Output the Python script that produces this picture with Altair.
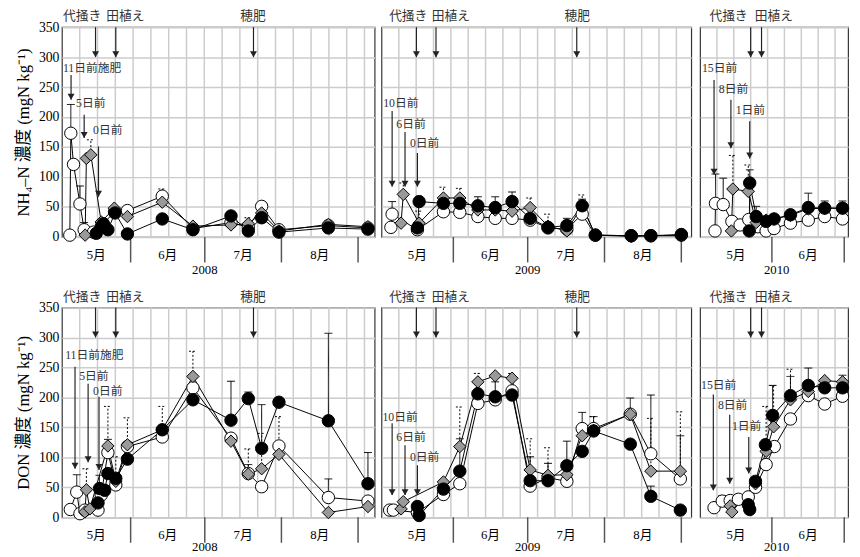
import altair as alt
import numpy as np
import pandas as pd

# ---------------- data (day index: 1 = 1 May) ----------------
SERIES = ["open", "grey", "filled"]
MONTHS = ["5月", "6月", "7月", "8月"]
MONTH_START = [1, 32, 62, 93, 124, 154]
Y_TICKS = [0, 50, 100, 150, 200, 250, 300, 350]

# (day, value, upper error)
NH4_2008_OPEN = [(7.4, 3, 0), (7.8, 173, 48), (8.9, 121, 0), (11.5, 55, 30), (13.2, 12, 12), (17.0, 8, 0),
                 (20.5, 20, 0), (25.5, 42, 0), (30.7, 44, 0), (44.8, 68, 0), (57.2, 14, 0), (72.6, 24, 0),
                 (79.6, 16, 0), (85.0, 51, 0), (92.0, 12, 0), (112.0, 19, 0), (128.0, 15, 0)]
NH4_2008_GREY = [(13.6, 3, 0), (14.1, 131, 0), (15.9, 137, 25), (20.1, 25, 0), (25.4, 48, 0), (30.7, 34, 0),
                 (44.8, 58, 22), (57.2, 18, 0), (72.6, 20, 0), (79.6, 22, 10), (85.0, 40, 0), (92.0, 10, 0),
                 (112.0, 21, 0), (128.0, 17, 0)]
NH4_2008_FILLED = [(18.1, 6, 0), (20.1, 17, 0), (21.0, 22, 0), (22.8, 12, 0), (25.7, 40, 0), (30.7, 5, 0),
                   (44.8, 30, 0), (57.2, 12, 0), (72.6, 35, 0), (79.6, 10, 0), (85.0, 32, 0), (92.0, 8, 0),
                   (112.0, 15, 0), (128.0, 13, 0)]

NH4_2009_OPEN = [(6.8, 16, 0), (7.3, 38, 21), (17.5, 12, 0), (28.0, 42, 0), (34.6, 41, 0), (41.9, 34, 0),
                 (48.9, 31, 0), (55.7, 31, 0), (63.0, 28, 0), (70.2, 15, 0), (77.8, 13, 0), (84.0, 38, 0),
                 (89.3, 3, 0), (103.8, 2, 0), (111.7, 2, 0), (124.0, 3, 0)]
NH4_2009_GREY = [(10.9, 23, 0), (11.8, 71, 19), (18.2, 23, 20), (28.0, 65, 18), (34.6, 65, 16), (41.9, 45, 0),
                 (48.9, 45, 0), (55.7, 43, 0), (63.0, 49, 16), (70.2, 18, 20), (77.8, 10, 0), (84.0, 52, 18),
                 (89.3, 3, 0), (103.8, 1, 0), (111.7, 2, 0), (124.0, 2, 0)]
NH4_2009_FILLED = [(17.5, 15, 0), (18.2, 59, 0), (28.0, 56, 0), (34.6, 56, 5), (41.9, 52, 15), (48.9, 49, 18),
                   (55.7, 59, 16), (63.0, 31, 0), (70.2, 16, 0), (77.8, 19, 12), (84.0, 52, 11), (89.3, 3, 0),
                   (103.8, 2, 0), (111.7, 2, 0), (124.0, 4, 0)]

NH4_2010_OPEN = [(8.4, 10, 0), (8.6, 56, 49), (11.8, 54, 44), (15.4, 26, 0), (18.8, 20, 0), (22.4, 29, 0),
                 (26.2, 17, 0), (29.6, 10, 0), (32.9, 14, 0), (39.7, 23, 0), (47.1, 28, 0), (53.9, 34, 0),
                 (61.3, 30, 0)]
NH4_2010_GREY = [(15.2, 10, 0), (15.8, 80, 56), (22.2, 76, 44), (25.5, 24, 0), (29.6, 28, 0), (32.9, 30, 0),
                 (39.7, 36, 0), (47.1, 47, 0), (53.9, 48, 0), (61.3, 48, 0)]
NH4_2010_FILLED = [(22.6, 10, 0), (22.8, 90, 22), (25.5, 34, 17), (29.6, 26, 0), (32.9, 30, 7), (39.7, 37, 6),
                   (47.1, 49, 24), (53.9, 48, 12), (61.3, 48, 12)]

DON_2008_OPEN = [(7.6, 13, 0), (10.2, 42, 29), (11.5, 6, 0), (13.5, 12, 0), (18.8, 12, 0), (20.1, 37, 0),
                 (22.8, 108, 22), (26.0, 54, 0), (30.7, 118, 0), (44.8, 134, 0), (57.2, 216, 0), (72.6, 132, 0),
                 (79.6, 73, 15), (85.0, 51, 0), (92.0, 119, 0), (112.0, 33, 31), (128.0, 27, 0)]
DON_2008_GREY = [(13.5, 9, 0), (14.1, 46, 35), (15.5, 14, 0), (22.8, 119, 66), (26.0, 60, 41), (30.7, 121, 45),
                 (44.8, 146, 39), (57.2, 235, 42), (72.6, 127, 0), (79.6, 72, 42), (85.0, 81, 59), (92.0, 105, 63),
                 (112.0, 8, 0), (128.0, 18, 0)]
DON_2008_FILLED = [(18.8, 24, 0), (19.4, 48, 22), (21.5, 45, 0), (22.8, 73, 0), (26.0, 65, 0), (30.7, 97, 0),
                   (44.8, 146, 0), (57.2, 196, 0), (72.6, 162, 65), (79.6, 198, 11), (85.0, 115, 73),
                   (92.0, 192, 0), (112.0, 161, 146), (128.0, 56, 52)]

DON_2009_OPEN = [(6.3, 12, 0), (7.8, 12, 0), (17.5, 8, 0), (28.0, 38, 0), (34.6, 56, 0), (41.9, 190, 0),
                 (48.9, 196, 0), (55.7, 211, 0), (63.0, 52, 0), (70.2, 66, 0), (77.8, 60, 0), (84.0, 148, 27),
                 (88.6, 148, 0), (103.4, 172, 27), (111.7, 106, 98), (123.6, 64, 72)]
DON_2009_GREY = [(10.9, 14, 0), (11.8, 26, 0), (28.0, 59, 0), (34.6, 118, 66), (41.9, 226, 14), (48.9, 236, 0),
                 (55.7, 232, 8), (63.0, 79, 52), (70.2, 70, 46), (77.8, 71, 0), (84.0, 136, 0), (88.6, 145, 23),
                 (103.4, 172, 0), (111.7, 77, 88), (123.6, 77, 99)]
DON_2009_FILLED = [(17.5, 18, 0), (18.2, 3, 0), (28.0, 47, 0), (34.6, 77, 54), (41.9, 206, 0), (48.9, 201, 25),
                   (55.7, 204, 0), (63.0, 61, 40), (70.2, 61, 29), (77.8, 86, 41), (84.0, 110, 0), (88.6, 144, 24),
                   (103.4, 122, 0), (111.7, 35, 17), (123.6, 12, 0)]

DON_2010_OPEN = [(8.0, 16, 0), (11.4, 27, 9), (14.7, 28, 0), (18.1, 30, 0), (22.2, 34, 0), (25.2, 50, 0),
                 (29.6, 88, 0), (33.0, 118, 0), (39.7, 164, 0), (47.1, 203, 0), (53.9, 189, 0), (61.3, 202, 0)]
DON_2010_GREY = [(14.7, 19, 0), (15.4, 9, 0), (25.2, 56, 0), (29.6, 110, 75), (32.7, 151, 69), (39.7, 196, 51),
                 (47.1, 210, 0), (53.9, 228, 0), (61.3, 226, 0)]
DON_2010_FILLED = [(22.2, 21, 0), (22.8, 13, 0), (25.2, 60, 0), (29.3, 121, 0), (32.3, 170, 50), (39.7, 203, 32),
                   (47.1, 220, 29), (53.9, 216, 0), (61.3, 216, 21)]

# management events: label, text day, arrow day
EVENTS_2008 = [("代掻き", 12.4, 17.8), ("田植え", 29.9, 26.0), ("穂肥", 81.5, 81.7)]
EVENTS_2009 = [("代掻き", 13.8, 17.1), ("田植え", 31.0, 25.0), ("穂肥", 82.0, 81.8)]
EVENTS_2010 = [("代掻き", 14.0, 23.2), ("田植え", 32.8, 27.7)]

FERT_LABELS_2008 = ["11日前施肥", "5日前", "0日前"]
FERT_LABELS_2009 = ["10日前", "6日前", "0日前"]
FERT_LABELS_2010 = ["15日前", "8日前", "1日前"]

# text (left day, level) and arrows (day, from, to)
NH4_2008_FERT_TEXT = [(4.6, 282), (9.9, 223), (16.8, 179)]
NH4_2008_FERT_ARROW = [(7.9, 270, 229), (13.2, 204, 165), (19.0, 151, 67)]
NH4_2009_FERT_TEXT = [(3.7, 223), (9.0, 188), (14.5, 157)]
NH4_2009_FERT_ARROW = [(7.3, 210, 84), (12.5, 175, 84), (17.5, 140, 84)]
NH4_2010_FERT_TEXT = [(3.0, 282), (10.0, 246), (17.0, 211)]
NH4_2010_FERT_ARROW = [(8.0, 262, 104), (15.0, 229, 148), (22.8, 193, 131)]
DON_2008_FERT_TEXT = [(5.5, 270), (11.2, 235), (16.8, 211)]
DON_2008_FERT_ARROW = [(9.5, 251, 81), (14.8, 223, 92), (19.2, 201, 79)]
DON_2009_FERT_TEXT = [(3.4, 168), (9.0, 134), (14.5, 100)]
DON_2009_FERT_ARROW = [(7.3, 157, 37), (12.5, 120, 37), (17.5, 87, 37)]
DON_2010_FERT_TEXT = [(2.6, 221), (9.6, 187), (15.4, 153)]
DON_2010_FERT_ARROW = [(7.7, 205, 45), (14.5, 171, 56), (22.4, 134, 73)]

YEARS = ["2008", "2009", "2010"]
YEAR_LABEL_DAY = [62, 62, 34]
DOMAINS = [[4.2, 130.7], [3.0, 128.0], [2.2, 63.6]]
WIDTHS = [319, 316, 151]
GRID_STEP = [7.2, 7.0, 7.0]

NH4_TITLE = "NH₄–N 濃度 (mgN kg⁻¹)"
DON_TITLE = "DON 濃度 (mgN kg⁻¹)"

# ---------------- styling ----------------
FONT = "Liberation Serif, Noto Sans CJK JP, serif"
H = 214
GRID = "#cccccc"
EVENT_TOP = 350
EVENT_TIP = 300
EVENT_TEXT_LEVEL = 368


def build_panel(series_lists, fert_labels, fert_text, fert_arrow, events, k, y_title, month_dy, year_dy):
    domain = DOMAINS[k]
    width = WIDTHS[k]
    rows = []
    for key, pts in zip(SERIES, series_lists):
        for i, (d, v, e) in enumerate(pts):
            rows.append({"series": key, "day": d, "val": v, "top": v + e, "err": e, "idx": i})
    df = pd.DataFrame(rows)
    err_df = df[df["err"] > 0]

    xs = alt.Scale(domain=domain, nice=False, zero=False)
    ys = alt.Scale(domain=[0, 350], nice=False)
    if y_title:
        yaxis = alt.Axis(values=Y_TICKS, grid=True, gridColor=GRID, gridWidth=1.5, ticks=False,
                         domain=False, labelPadding=3, labelFontSize=14, labelFont=FONT,
                         labelColor="black", title=y_title, titleFont=FONT, titleFontSize=17,
                         titleFontWeight="normal", titleColor="black", titlePadding=6)
    else:
        yaxis = alt.Axis(values=Y_TICKS, grid=True, gridColor=GRID, gridWidth=1.5, labels=False,
                         ticks=False, domain=False, title=None)

    def X(f):
        return alt.X(f"{f}:Q", scale=xs, axis=None)

    def Y(f):
        return alt.Y(f"{f}:Q", scale=ys, axis=yaxis)

    gdays = np.arange(domain[0] + GRID_STEP[k], domain[1] - 1.0, GRID_STEP[k])
    vgrid = alt.Chart(pd.DataFrame({"day": gdays})).mark_rule(color=GRID, strokeWidth=1.5).encode(
        x=X("day"), y=alt.value(0), y2=alt.value(H))

    ms = [m for m in MONTH_START if domain[0] < m <= domain[1]]
    mdiv = alt.Chart(pd.DataFrame({"day": ms})).mark_rule(color="#555", strokeWidth=1.5).encode(
        x=X("day"), y=alt.value(H), y2=alt.value(H + 26))

    mids, names = [], []
    for i, nm in enumerate(MONTHS):
        a = max(MONTH_START[i], domain[0])
        b = min(MONTH_START[i + 1], domain[1])
        if b - a > 8:
            mids.append((a + b) / 2)
            names.append(nm)
    mlab = alt.Chart(pd.DataFrame({"day": mids, "label": names})).mark_text(
        font=FONT, fontSize=13, baseline="middle", color="black").encode(
        x=X("day"), y=alt.value(H + month_dy), text="label:N")
    ylab = alt.Chart(pd.DataFrame({"day": [YEAR_LABEL_DAY[k]], "label": [YEARS[k]]})).mark_text(
        font=FONT, fontSize=13, baseline="middle", color="black").encode(
        x=X("day"), y=alt.value(H + year_dy), text="label:N")

    dash = alt.StrokeDash("series:N", scale=alt.Scale(domain=SERIES, range=[[1, 0], [2, 2], [1, 0]]),
                          legend=None)
    errbars = alt.Chart(err_df).mark_rule(color="black", strokeWidth=1).encode(
        x=X("day"), y=Y("val"), y2="top:Q", strokeDash=dash)
    caps = alt.Chart(err_df).mark_rule(color="black", strokeWidth=1, xOffset=-4, x2Offset=4).encode(
        x=X("day"), x2="day:Q", y=Y("top"), strokeDash=dash)

    lines = alt.Chart(df).mark_line(color="black", strokeWidth=1).encode(
        x=X("day"), y=Y("val"), detail="series:N", order="idx:Q")

    points = alt.Chart(df).mark_point(filled=True, opacity=1, stroke="black", strokeWidth=1, size=160).encode(
        x=X("day"), y=Y("val"),
        shape=alt.Shape("series:N", scale=alt.Scale(domain=SERIES, range=["circle", "diamond", "circle"]),
                        legend=None),
        fill=alt.Fill("series:N", scale=alt.Scale(domain=SERIES, range=["white", "#999999", "black"]),
                      legend=None))

    arr_rows = [{"day": d, "y1": a, "y2": b} for (d, a, b) in fert_arrow]
    arr_rows += [{"day": ad, "y1": EVENT_TOP, "y2": EVENT_TIP} for (_, _, ad) in events]
    arr_df = pd.DataFrame(arr_rows)
    arrows = alt.Chart(arr_df).mark_rule(color="#222", strokeWidth=1.2).encode(
        x=X("day"), y=Y("y1"), y2="y2:Q")
    heads = alt.Chart(arr_df).mark_point(shape="triangle-down", filled=True, color="#222", opacity=1,
                                         size=50, yOffset=-3).encode(x=X("day"), y=Y("y2"))

    ft = pd.DataFrame({"day": [t[0] for t in fert_text], "val": [t[1] for t in fert_text],
                       "label": fert_labels})
    fert_txt = alt.Chart(ft).mark_text(align="left", baseline="middle", font=FONT, fontSize=12,
                                       color="#333").encode(x=X("day"), y=Y("val"), text="label:N")
    et = pd.DataFrame({"day": [e[1] for e in events], "val": [EVENT_TEXT_LEVEL] * len(events),
                       "label": [e[0] for e in events]})
    ev_txt = alt.Chart(et).mark_text(align="center", baseline="middle", font=FONT, fontSize=13,
                                     color="#333").encode(x=X("day"), y=Y("val"), text="label:N")

    return alt.layer(vgrid, mdiv, mlab, ylab, errbars, caps, lines, arrows, heads, points,
                     fert_txt, ev_txt).properties(width=width, height=H)


p1 = build_panel([NH4_2008_OPEN, NH4_2008_GREY, NH4_2008_FILLED], FERT_LABELS_2008, NH4_2008_FERT_TEXT,
                 NH4_2008_FERT_ARROW, EVENTS_2008, 0, NH4_TITLE, 18, 33.5)
p2 = build_panel([NH4_2009_OPEN, NH4_2009_GREY, NH4_2009_FILLED], FERT_LABELS_2009, NH4_2009_FERT_TEXT,
                 NH4_2009_FERT_ARROW, EVENTS_2009, 1, "", 18, 33.5)
p3 = build_panel([NH4_2010_OPEN, NH4_2010_GREY, NH4_2010_FILLED], FERT_LABELS_2010, NH4_2010_FERT_TEXT,
                 NH4_2010_FERT_ARROW, EVENTS_2010, 2, "", 18, 33.5)
q1 = build_panel([DON_2008_OPEN, DON_2008_GREY, DON_2008_FILLED], FERT_LABELS_2008, DON_2008_FERT_TEXT,
                 DON_2008_FERT_ARROW, EVENTS_2008, 0, DON_TITLE, 18, 30)
q2 = build_panel([DON_2009_OPEN, DON_2009_GREY, DON_2009_FILLED], FERT_LABELS_2009, DON_2009_FERT_TEXT,
                 DON_2009_FERT_ARROW, EVENTS_2009, 1, "", 18, 30)
q3 = build_panel([DON_2010_OPEN, DON_2010_GREY, DON_2010_FILLED], FERT_LABELS_2010, DON_2010_FERT_TEXT,
                 DON_2010_FERT_ARROW, EVENTS_2010, 2, "", 18, 30)

row1 = alt.hconcat(alt.hconcat(p1, p2, spacing=3), p3, spacing=7)
row2 = alt.hconcat(alt.hconcat(q1, q2, spacing=3), q3, spacing=7)

chart = alt.vconcat(row1, row2, spacing=12).properties(
    padding={"left": 6, "top": -4, "right": 0, "bottom": -1}
).configure_view(stroke="#333", strokeWidth=1.2).configure_axis(labelFont=FONT, titleFont=FONT)

chart.save("out.html", embed_options={"renderer": "svg", "actions": False})
